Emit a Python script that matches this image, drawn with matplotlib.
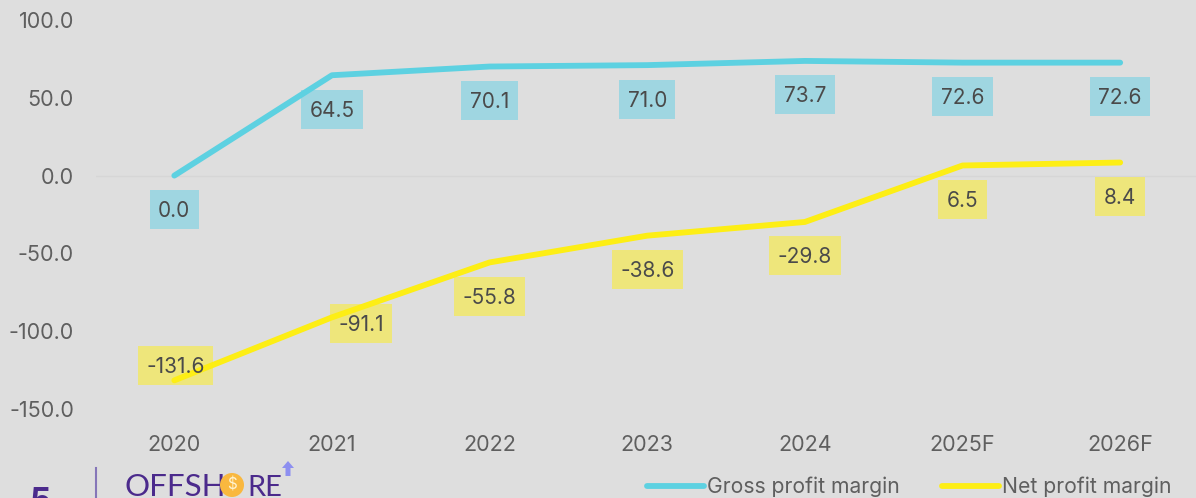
# -*- coding: utf-8 -*-
import matplotlib
matplotlib.use('Agg')
import matplotlib.pyplot as plt
from matplotlib.path import Path
from matplotlib.patches import Circle, Polygon

plt.rcParams['font.family'] = ['Inter', 'DejaVu Sans']

years = ['2020', '2021', '2022', '2023', '2024', '2025F', '2026F']
gross_margin = [0.0, 64.5, 70.1, 71.0, 73.7, 72.6, 72.6]
net_margin = [-131.6, -91.1, -55.8, -38.6, -29.8, 6.5, 8.4]
y_ticks = [100.0, 50.0, 0.0, -50.0, -100.0, -150.0]

bg = '#dedede'
blue = '#5dd1e1'
yellow = '#fdee15'
blue_box = '#9fd6e1'
yellow_box = '#eee67b'
grey = '#5f5f5f'
purple = '#4b2a8c'

W, H = 1196, 498
PX = 0.72  # points per pixel at dpi 100
fig = plt.figure(figsize=(W / 100, H / 100), dpi=100, facecolor=bg)
ax = fig.add_axes([95.5 / W, 1 - 409 / H, 1103.5 / W, (409 - 20) / H], facecolor=bg)
x = list(range(len(years)))


def label_box(x0, y0, width, height, mutation_size):
    # box of fixed height around the text
    cy = y0 + height / 2
    pad_x = 8.5
    half = 19.5
    return Path([(x0 - pad_x, cy - half), (x0 + width + pad_x, cy - half),
                 (x0 + width + pad_x, cy + half), (x0 - pad_x, cy + half),
                 (x0 - pad_x, cy - half)], closed=True)


def put_labels(values, fill, shifts):
    for i, v in enumerate(values):
        dx, dy = shifts.get(i, (0, -34))
        ax.annotate(f'{v:.1f}', (i, v), xytext=(dx * PX, dy * PX), textcoords='offset points',
                    ha='center', va='center', fontsize=15, color='none', zorder=1,
                    annotation_clip=False,
                    bbox=dict(boxstyle=label_box, fc=fill, ec='none'))
        ax.annotate(f'{v:.1f}', (i, v), xytext=(dx * PX, (dy - 1.5) * PX), textcoords='offset points',
                    ha='center', va='center', fontsize=15, color='#4a4a4a', zorder=4,
                    annotation_clip=False)


ax.axhline(0, color='#d6d6d6', lw=1, zorder=0)
l1, = ax.plot(x, gross_margin, color=blue, lw=4.2, solid_capstyle='round',
              solid_joinstyle='round', clip_on=False, zorder=3, label='Gross profit margin')
l2, = ax.plot(x, net_margin, color=yellow, lw=4.2, solid_capstyle='round',
              solid_joinstyle='round', clip_on=False, zorder=3, label='Net profit margin')

put_labels(gross_margin, blue_box, {})
put_labels(net_margin, yellow_box, {0: (1, 15), 1: (29, -6)})

ax.set_xlim(-0.5, 6.5)
ax.set_ylim(-150, 100)
ax.set_xticks(x, years)
ax.set_yticks(y_ticks, [f'{t:.1f}' for t in y_ticks])
ax.tick_params(length=0, labelsize=15.5, labelcolor=grey)
ax.tick_params(axis='x', pad=19)
ax.tick_params(axis='y', pad=15.5)
for s in ax.spines.values():
    s.set_visible(False)

fig.legend(handles=[l1, l2], ncol=2, frameon=False, fontsize=15.2, labelcolor=grey,
           loc='center right', bbox_to_anchor=(1172 / W, 1 - 487 / H), borderpad=0,
           borderaxespad=0, handlelength=2.7, handletextpad=0.15, columnspacing=2.0)

# footer logo and page number
fig.text(40 / W, 1 - 512 / H, '5', fontsize=24, fontweight='bold', color=purple, ha='center', va='baseline')
fig.add_artist(plt.Line2D([95.5 / W, 95.5 / W], [0, 1 - 468 / H], color='#8576b8', lw=1.5))
fig.text(125 / W, 1 - 496 / H, 'OFFSH', fontfamily='Lato', fontsize=22.5, color=purple, va='baseline')
fig.text(247 / W, 1 - 496 / H, 'RE', fontfamily='Lato', fontsize=21, color=purple, va='baseline')
fig.add_artist(Circle((232, H - 485), 12, transform=None, fc='#f9b83f', ec='none', zorder=5))
fig.text(232 / W, 1 - 485 / H, '$', fontsize=11, color='#fff3d0', ha='center', va='center',
         parse_math=False, zorder=6)
fig.add_artist(Polygon([(288, H - 461), (282, H - 468), (285.5, H - 468), (285.5, H - 476),
                        (290.5, H - 476), (290.5, H - 468), (294, H - 468)], closed=True,
                       transform=None, fc='#8d8ff0', ec='none'))

fig.savefig('out.png', dpi=100, facecolor=bg)
